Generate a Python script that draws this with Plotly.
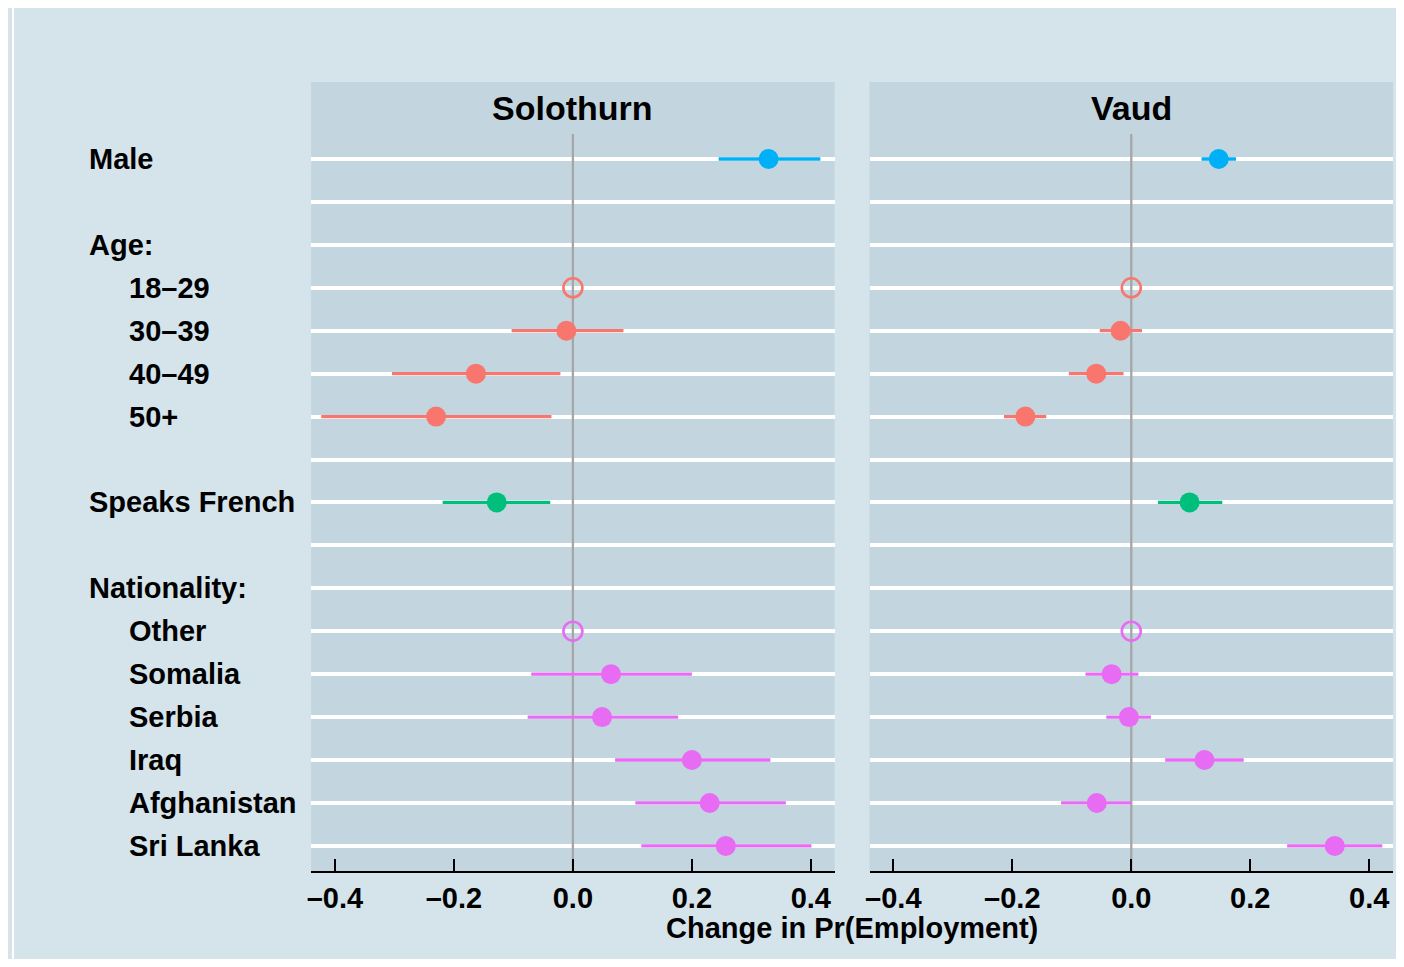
import plotly.graph_objects as go

# ---------------- data ----------------
row_labels = ["Male", "", "Age:", "18–29", "30–39", "40–49", "50+", "",
              "Speaks French", "", "Nationality:", "Other", "Somalia", "Serbia",
              "Iraq", "Afghanistan", "Sri Lanka"]
row_indent = [0, 0, 0, 1, 1, 1, 1, 0, 0, 0, 0, 1, 1, 1, 1, 1, 1]

terms = ["Male", "18–29", "30–39", "40–49", "50+", "Speaks French",
         "Other", "Somalia", "Serbia", "Iraq", "Afghanistan", "Sri Lanka"]
term_group = ["Male", "Age", "Age", "Age", "Age", "French",
              "Nat", "Nat", "Nat", "Nat", "Nat", "Nat"]
is_reference = [False, True, False, False, False, False,
                True, False, False, False, False, False]

panels = ["Solothurn", "Vaud"]
solothurn_est = [0.329, 0.0, -0.011, -0.163, -0.230, -0.128, 0.0, 0.064, 0.049, 0.200, 0.230, 0.257]
solothurn_lo = [0.245, 0.0, -0.103, -0.304, -0.423, -0.219, 0.0, -0.070, -0.076, 0.071, 0.105, 0.115]
solothurn_hi = [0.416, 0.0, 0.085, -0.021, -0.036, -0.038, 0.0, 0.200, 0.177, 0.332, 0.358, 0.401]
vaud_est = [0.147, 0.0, -0.018, -0.059, -0.178, 0.098, 0.0, -0.033, -0.004, 0.123, -0.058, 0.342]
vaud_lo = [0.118, 0.0, -0.053, -0.105, -0.214, 0.045, 0.0, -0.077, -0.042, 0.057, -0.118, 0.262]
vaud_hi = [0.176, 0.0, 0.018, -0.013, -0.143, 0.153, 0.0, 0.012, 0.033, 0.189, 0.001, 0.422]

x_tickvals = [-0.4, -0.2, 0.0, 0.2, 0.4]
x_ticktext = ["–0.4", "–0.2", "0.0", "0.2", "0.4"]
x_title = "Change in Pr(Employment)"

group_colors = {"Male": "#00B0F6", "Age": "#F8766D", "French": "#00BF7D", "Nat": "#E76BF3"}

# ---------------- layout constants ----------------
OFF_X, OFF_Y = 9, 8          # page body margin compensation
W, H = 1404 - 8, 967 - 16
FONT = "Liberation Sans, Arial, Helvetica, sans-serif"
OUTER_BG = "#d5e4eb"
PANEL_BG = "#c3d6df"

def px_x(p):
    return (p - OFF_X) / W

def px_y(p):
    return 1 - (p - OFF_Y) / H

row_top_px, row_step_px = 159, 42.93
panel_top_px, panel_bot_px = 82, 871
y_top = (panel_top_px - row_top_px) / row_step_px
y_bot = (panel_bot_px - row_top_px) / row_step_px
zero_top = (134 - row_top_px) / row_step_px

domains = [[px_x(309), px_x(834)], [px_x(869), px_x(1394)]]
ydom = [px_y(panel_bot_px), px_y(panel_top_px)]

fig = go.Figure()

term_rows = [row_labels.index(t) for t in terms]
panel_data = [
    (solothurn_est, solothurn_lo, solothurn_hi),
    (vaud_est, vaud_lo, vaud_hi),
]

for pi, (est, lo, hi) in enumerate(panel_data):
    xa = "x" if pi == 0 else "x2"
    ya = "y" if pi == 0 else "y2"
    # zero reference line
    fig.add_trace(go.Scatter(x=[0, 0], y=[zero_top, y_bot], mode="lines",
                             line=dict(color="#a6a6a6", width=2.3),
                             xaxis=xa, yaxis=ya, showlegend=False, hoverinfo="skip"))
    for g, col in group_colors.items():
        idx = [i for i in range(len(terms)) if term_group[i] == g and not is_reference[i]]
        if idx:
            fig.add_trace(go.Scatter(
                x=[est[i] for i in idx], y=[term_rows[i] for i in idx],
                mode="markers",
                marker=dict(color=col, size=20, line=dict(width=0)),
                error_x=dict(type="data", symmetric=False,
                             array=[hi[i] - est[i] for i in idx],
                             arrayminus=[est[i] - lo[i] for i in idx],
                             color=col, thickness=3.3, width=0),
                xaxis=xa, yaxis=ya, showlegend=False))
        ridx = [i for i in range(len(terms)) if term_group[i] == g and is_reference[i]]
        if ridx:
            fig.add_trace(go.Scatter(
                x=[est[i] for i in ridx], y=[term_rows[i] for i in ridx],
                mode="markers",
                marker=dict(symbol="circle-open", color=col, size=19, line=dict(width=2.6, color=col)),
                xaxis=xa, yaxis=ya, showlegend=False))

axis_common_x = dict(range=[-0.44, 0.44], showgrid=False, zeroline=False,
                     showline=True, linecolor="black", linewidth=2,
                     ticks="inside", ticklen=12, tickwidth=2, tickcolor="black",
                     tickvals=x_tickvals, ticktext=x_ticktext,
                     tickfont=dict(family=FONT, size=29, color="black", weight="bold"),
                     fixedrange=True)
axis_common_y = dict(range=[y_bot, y_top], domain=ydom, showgrid=True, gridcolor="white",
                     gridwidth=3.5, tickvals=list(range(len(row_labels))),
                     showticklabels=False, ticks="", zeroline=False, showline=False,
                     fixedrange=True)

fig.update_layout(
    width=W, height=H,
    margin=dict(l=0, r=0, t=0, b=0, pad=0),
    paper_bgcolor=OUTER_BG, plot_bgcolor=PANEL_BG,
    font=dict(family=FONT, color="black"),
    showlegend=False,
    xaxis=dict(domain=domains[0], anchor="y", **axis_common_x),
    xaxis2=dict(domain=domains[1], anchor="y2", **axis_common_x),
    yaxis=dict(anchor="x", **axis_common_y),
    yaxis2=dict(anchor="x2", **axis_common_y),
)

# white strip at the far left (outside the light frame)
fig.add_shape(type="rect", xref="paper", yref="paper",
              x0=0.0, x1=max(px_x(11), 0.0005), y0=0.0, y1=1.0,
              fillcolor="white", line=dict(width=0), layer="above")

annotations = []
# panel titles
for pi, name in enumerate(panels):
    annotations.append(dict(text=name, xref="paper", yref="paper",
                            x=(domains[pi][0] + domains[pi][1]) / 2, y=px_y(108),
                            xanchor="center", yanchor="middle", showarrow=False,
                            font=dict(family=FONT, size=34, color="black", weight="bold")))
# row labels
for r, (lab, ind) in enumerate(zip(row_labels, row_indent)):
    if not lab:
        continue
    annotations.append(dict(text=lab, xref="paper", yref="y", x=px_x(124 if ind else 84), y=r,
                            xanchor="left", yanchor="middle", showarrow=False,
                            font=dict(family=FONT, size=29, color="black", weight="bold")))
# x axis title
annotations.append(dict(text=x_title, xref="paper", yref="paper", x=px_x(851.5), y=px_y(928),
                        xanchor="center", yanchor="middle", showarrow=False,
                        font=dict(family=FONT, size=29, color="black", weight="bold")))
fig.update_layout(annotations=annotations)

fig.write_html("out.html")
